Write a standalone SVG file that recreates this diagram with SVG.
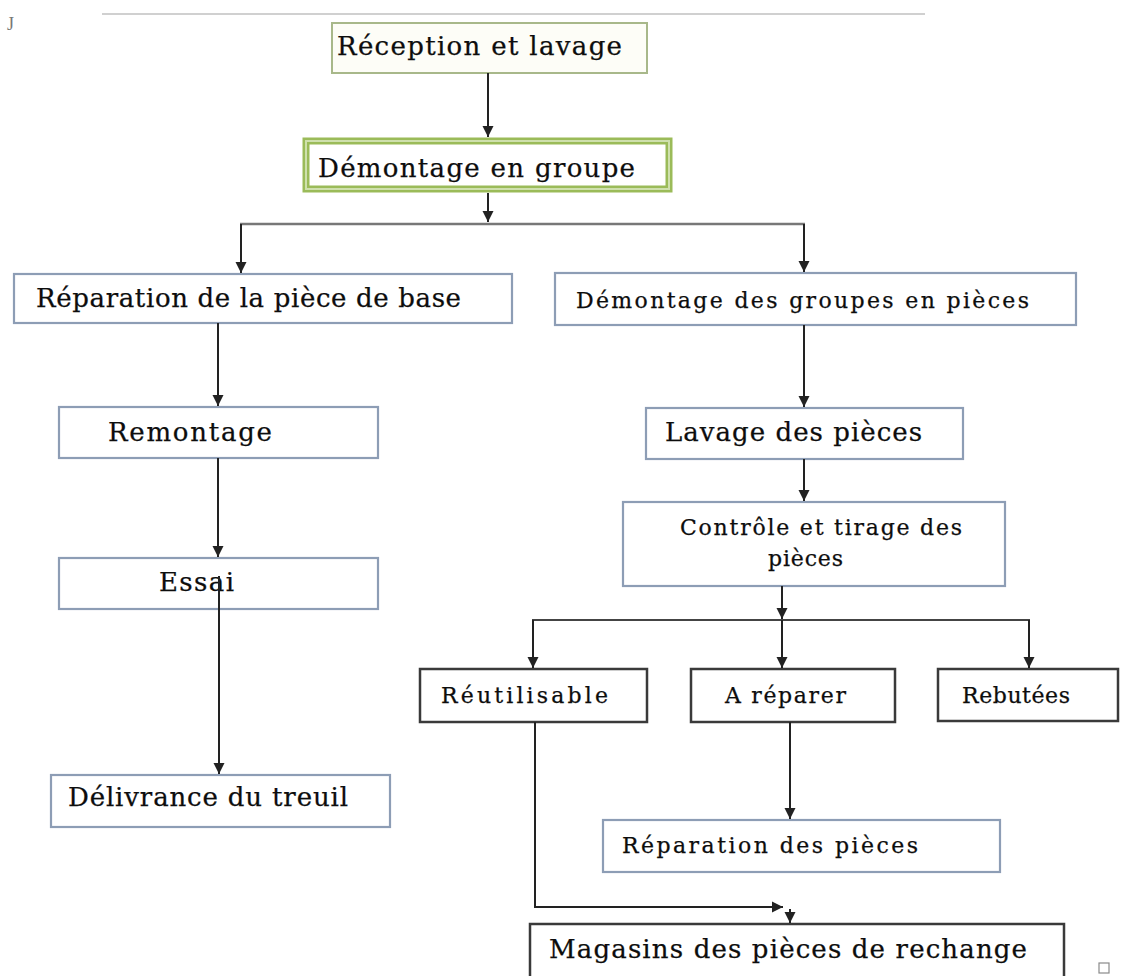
<svg xmlns="http://www.w3.org/2000/svg" width="1123" height="976" viewBox="0 0 1123 976">
<style>
.t{font-family:"DejaVu Serif","Liberation Serif",serif;fill:#0d0d0d;stroke:#0d0d0d;stroke-width:0.25}
.big{font-size:26px}
.sm{font-size:22px}
.bx{fill:#ffffff;stroke:#8d9db5;stroke-width:2.2}
.dk{fill:#ffffff;stroke:#3a3a3a;stroke-width:2.5}
.c{fill:none;stroke:#222;stroke-width:2}
</style>
<defs>
<marker id="ah" markerWidth="13" markerHeight="13" refX="11" refY="6.5" orient="auto" markerUnits="userSpaceOnUse">
<path d="M0,1 L11,6.5 L0,12 z" fill="#222"/>
</marker>
</defs>
<rect width="1123" height="976" fill="#ffffff"/>
<line x1="102" y1="14" x2="925" y2="14" stroke="#d0d0d0" stroke-width="2"/>
<text x="7" y="30" font-family="Liberation Serif, serif" font-size="18" fill="#777">J</text>
<rect x="1099" y="963" width="10" height="10" fill="none" stroke="#8a8a8a" stroke-width="1.2"/>

<g id="n-reception">
<rect x="332" y="23" width="315" height="50" fill="#fdfdf7" stroke="#a8b88a" stroke-width="2"/>
<text class="t big" x="337" y="55" textLength="285">Réception et lavage</text>
</g>
<g id="n-demontage-groupe">
<rect x="306" y="141" width="363" height="48" fill="#ffffff" stroke="#9bbb59" stroke-width="7"/>
<rect x="306" y="141" width="363" height="48" fill="none" stroke="#cfe0ad" stroke-width="2"/>
<text class="t big" x="318" y="177" textLength="317">Démontage en groupe</text>
</g>
<g id="n-reparation-base">
<rect class="bx" x="14" y="274" width="498" height="49"/>
<text class="t big" x="36" y="307" textLength="425">Réparation de la pièce de base</text>
</g>
<g id="n-demontage-pieces">
<rect class="bx" x="555" y="273" width="521" height="52"/>
<text class="t sm" x="576" y="308" textLength="453">Démontage des groupes en pièces</text>
</g>
<g id="n-remontage">
<rect class="bx" x="59" y="407" width="319" height="51"/>
<text class="t big" x="108" y="441" textLength="164">Remontage</text>
</g>
<g id="n-lavage">
<rect class="bx" x="646" y="408" width="317" height="51"/>
<text class="t big" x="665" y="441" textLength="257">Lavage des pièces</text>
</g>
<g id="n-controle">
<rect class="bx" x="623" y="502" width="382" height="84"/>
<text class="t sm" x="680" y="535" textLength="282">Contrôle et tirage des</text>
<text class="t sm" x="768" y="566" textLength="75">pièces</text>
</g>
<g id="n-essai">
<rect class="bx" x="59" y="558" width="319" height="51"/>
<text class="t big" x="159" y="591" textLength="75">Essai</text>
</g>
<g id="n-delivrance">
<rect class="bx" x="51" y="775" width="339" height="52"/>
<text class="t big" x="68" y="806" textLength="280">Délivrance du treuil</text>
</g>
<g id="n-reutilisable">
<rect class="dk" x="420" y="669" width="227" height="53"/>
<text class="t sm" x="441" y="703" textLength="167">Réutilisable</text>
</g>
<g id="n-a-reparer">
<rect class="dk" x="691" y="669" width="204" height="53"/>
<text class="t sm" x="725" y="703" textLength="121">A réparer</text>
</g>
<g id="n-rebutees">
<rect class="dk" x="938" y="669" width="180" height="52"/>
<text class="t sm" x="962" y="703" textLength="108">Rebutées</text>
</g>
<g id="n-reparation-pieces">
<rect class="bx" x="603" y="820" width="397" height="52"/>
<text class="t sm" x="622" y="853" textLength="296">Réparation des pièces</text>
</g>
<g id="n-magasins">
<rect class="dk" x="530" y="924" width="534" height="60"/>
<text class="t big" x="549" y="958" textLength="478">Magasins des pièces de rechange</text>
</g>

<g id="connectors">
<line class="c" x1="488" y1="73" x2="488" y2="137" marker-end="url(#ah)"/>
<line class="c" x1="488" y1="193" x2="488" y2="222" marker-end="url(#ah)"/>
<line x1="240" y1="224" x2="805" y2="224" stroke="#777" stroke-width="2.5"/>
<line class="c" x1="241" y1="224" x2="241" y2="273" marker-end="url(#ah)"/>
<line class="c" x1="804" y1="224" x2="804" y2="272" marker-end="url(#ah)"/>
<line class="c" x1="218" y1="323" x2="218" y2="406" marker-end="url(#ah)"/>
<line class="c" x1="218" y1="458" x2="218" y2="557" marker-end="url(#ah)"/>
<line class="c" x1="219" y1="576" x2="219" y2="774" marker-end="url(#ah)"/>
<line class="c" x1="804" y1="325" x2="804" y2="407" marker-end="url(#ah)"/>
<line class="c" x1="804" y1="459" x2="804" y2="501" marker-end="url(#ah)"/>
<line class="c" x1="782" y1="586" x2="782" y2="619" marker-end="url(#ah)"/>
<line x1="532" y1="620" x2="1030" y2="620" stroke="#444" stroke-width="2"/>
<line class="c" x1="533" y1="620" x2="533" y2="668" marker-end="url(#ah)"/>
<line class="c" x1="782" y1="620" x2="782" y2="668" marker-end="url(#ah)"/>
<line class="c" x1="1029" y1="620" x2="1029" y2="668" marker-end="url(#ah)"/>
<line class="c" x1="790" y1="722" x2="790" y2="819" marker-end="url(#ah)"/>
<path class="c" d="M535,722 V907 H783" marker-end="url(#ah)"/>
<line class="c" x1="790" y1="909" x2="790" y2="923" marker-end="url(#ah)"/>
</g>
</svg>
